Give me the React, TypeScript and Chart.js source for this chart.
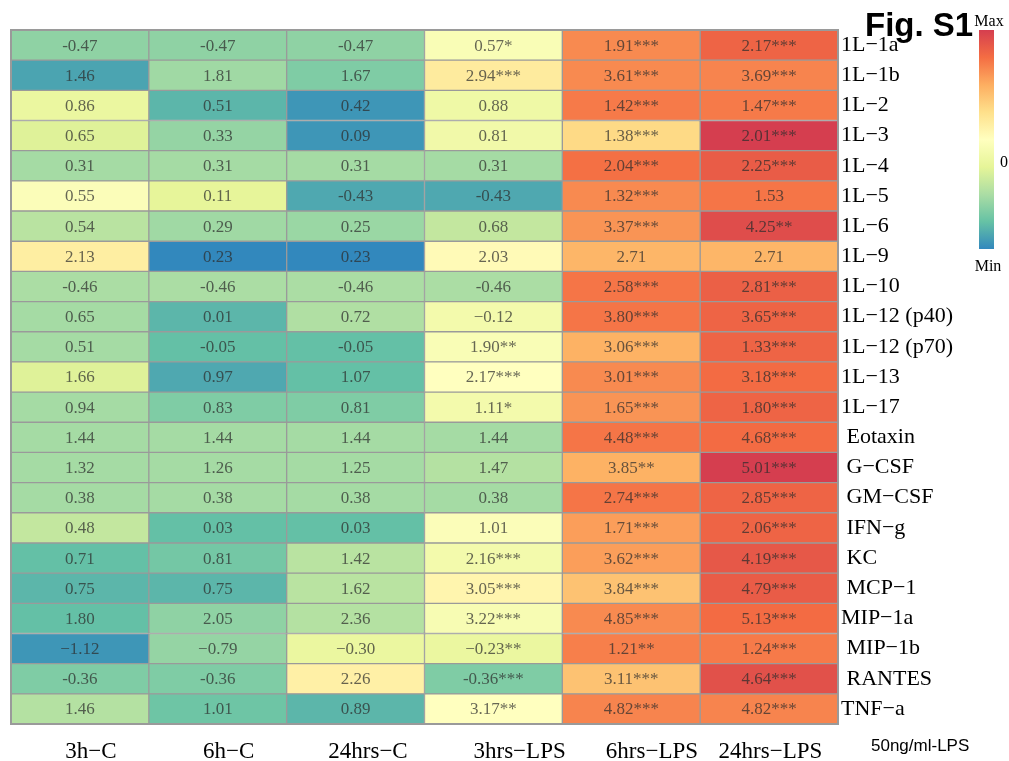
import React, { useEffect, useRef } from "react";
import { Chart, registerables } from "chart.js";

Chart.register(...registerables);

// Row (cytokine) and column (condition) names
const rowLabels = [
  "1L−1a", "1L−1b", "1L−2", "1L−3", "1L−4", "1L−5", "1L−6", "1L−9", "1L−10",
  "1L−12 (p40)", "1L−12 (p70)", "1L−13", "1L−17", " Eotaxin", " G−CSF", " GM−CSF",
  " IFN−g", " KC", " MCP−1", "MIP−1a", " MIP−1b", " RANTES", "TNF−a",
];
const columnLabels = ["3h−C", "6h−C", "24hrs−C", "3hrs−LPS", "6hrs−LPS", "24hrs−LPS"];

// Fold-change values printed in each cell
const values: number[][] = [
  [-0.47, -0.47, -0.47, 0.57, 1.91, 2.17],
  [1.46, 1.81, 1.67, 2.94, 3.61, 3.69],
  [0.86, 0.51, 0.42, 0.88, 1.42, 1.47],
  [0.65, 0.33, 0.09, 0.81, 1.38, 2.01],
  [0.31, 0.31, 0.31, 0.31, 2.04, 2.25],
  [0.55, 0.11, -0.43, -0.43, 1.32, 1.53],
  [0.54, 0.29, 0.25, 0.68, 3.37, 4.25],
  [2.13, 0.23, 0.23, 2.03, 2.71, 2.71],
  [-0.46, -0.46, -0.46, -0.46, 2.58, 2.81],
  [0.65, 0.01, 0.72, -0.12, 3.8, 3.65],
  [0.51, -0.05, -0.05, 1.9, 3.06, 1.33],
  [1.66, 0.97, 1.07, 2.17, 3.01, 3.18],
  [0.94, 0.83, 0.81, 1.11, 1.65, 1.8],
  [1.44, 1.44, 1.44, 1.44, 4.48, 4.68],
  [1.32, 1.26, 1.25, 1.47, 3.85, 5.01],
  [0.38, 0.38, 0.38, 0.38, 2.74, 2.85],
  [0.48, 0.03, 0.03, 1.01, 1.71, 2.06],
  [0.71, 0.81, 1.42, 2.16, 3.62, 4.19],
  [0.75, 0.75, 1.62, 3.05, 3.84, 4.79],
  [1.8, 2.05, 2.36, 3.22, 4.85, 5.13],
  [-1.12, -0.79, -0.3, -0.23, 1.21, 1.24],
  [-0.36, -0.36, 2.26, -0.36, 3.11, 4.64],
  [1.46, 1.01, 0.89, 3.17, 4.82, 4.82],
];

// Significance marks
const stars: string[][] = [
  ["", "", "", "*", "***", "***"],
  ["", "", "", "***", "***", "***"],
  ["", "", "", "", "***", "***"],
  ["", "", "", "", "***", "***"],
  ["", "", "", "", "***", "***"],
  ["", "", "", "", "***", ""],
  ["", "", "", "", "***", "**"],
  ["", "", "", "", "", ""],
  ["", "", "", "", "***", "***"],
  ["", "", "", "", "***", "***"],
  ["", "", "", "**", "***", "***"],
  ["", "", "", "***", "***", "***"],
  ["", "", "", "*", "***", "***"],
  ["", "", "", "", "***", "***"],
  ["", "", "", "", "**", "***"],
  ["", "", "", "", "***", "***"],
  ["", "", "", "", "***", "***"],
  ["", "", "", "***", "***", "***"],
  ["", "", "", "***", "***", "***"],
  ["", "", "", "***", "***", "***"],
  ["", "", "", "**", "**", "***"],
  ["", "", "", "***", "***", "***"],
  ["", "", "", "**", "***", "***"],
];

// Cells whose negative sign is set as a true minus (row, column)
const trueMinusCells: [number, number][] = [
  [9, 3], [20, 0], [20, 1], [20, 2], [20, 3],
];

// Row-scaled colour level of every cell (0 = row minimum, 1 = row maximum)
const levels: number[][] = [
  [0.2, 0.2, 0.2, 0.47, 0.82, 0.9],
  [0.06, 0.23, 0.17, 0.58, 0.82, 0.83],
  [0.4, 0.1, 0.03, 0.42, 0.85, 0.85],
  [0.36, 0.21, 0.03, 0.43, 0.64, 1.0],
  [0.24, 0.24, 0.24, 0.24, 0.87, 0.92],
  [0.48, 0.38, 0.07, 0.07, 0.82, 0.86],
  [0.28, 0.23, 0.22, 0.3, 0.8, 0.96],
  [0.57, 0.0, 0.0, 0.52, 0.73, 0.73],
  [0.25, 0.25, 0.25, 0.25, 0.86, 0.91],
  [0.24, 0.1, 0.26, 0.44, 0.86, 0.9],
  [0.24, 0.12, 0.12, 0.47, 0.74, 0.9],
  [0.36, 0.07, 0.12, 0.5, 0.82, 0.88],
  [0.24, 0.17, 0.17, 0.44, 0.8, 0.9],
  [0.24, 0.24, 0.24, 0.24, 0.86, 0.88],
  [0.24, 0.24, 0.24, 0.27, 0.74, 1.0],
  [0.24, 0.24, 0.24, 0.24, 0.86, 0.9],
  [0.3, 0.12, 0.12, 0.48, 0.78, 0.9],
  [0.12, 0.15, 0.28, 0.44, 0.78, 0.93],
  [0.1, 0.1, 0.28, 0.54, 0.7, 0.92],
  [0.12, 0.2, 0.27, 0.46, 0.82, 0.88],
  [0.03, 0.21, 0.4, 0.4, 0.84, 0.85],
  [0.17, 0.17, 0.56, 0.17, 0.7, 0.95],
  [0.27, 0.14, 0.1, 0.5, 0.83, 0.83],
];

// Spectral ramp from min (blue) to max (red)
const palette = [
  "#3288BD", "#66C2A5", "#ABDDA4", "#E6F598", "#FFFFBF",
  "#FEE08B", "#FDAE61", "#F46D43", "#D53E4F",
];

// Horizontal shift of each column caption, in column widths
const captionShift = [0.08, 0.08, 0.09, 0.19, 0.15, 0.01];

function hexToRgb(h: string): number[] {
  const n = parseInt(h.slice(1), 16);
  return [(n >> 16) & 255, (n >> 8) & 255, n & 255];
}

function rampColor(t: number): string {
  const v = Math.max(0, Math.min(1, t)) * (palette.length - 1);
  const i = Math.min(palette.length - 2, Math.floor(v));
  const f = v - i;
  const a = hexToRgb(palette[i]);
  const b = hexToRgb(palette[i + 1]);
  const c = a.map((x, k) => Math.round(x + (b[k] - x) * f));
  return `rgb(${c[0]},${c[1]},${c[2]})`;
}

function cellText(r: number, c: number): string {
  const v = values[r][c];
  let s = Math.abs(v).toFixed(2);
  if (v < 0) {
    const trueMinus = trueMinusCells.some(([rr, cc]) => rr === r && cc === c);
    s = (trueMinus ? "−" : "-") + s;
  }
  return s + stars[r][c];
}

const serif = "'Liberation Serif', 'Times New Roman', serif";
const sans = "'Liberation Sans', Arial, sans-serif";

const cellLabelPlugin = {
  id: "cellLabels",
  afterDatasetsDraw(chart: any) {
    const { ctx, scales, chartArea } = chart;
    const xs = scales.x;
    const ys = scales.y;
    ctx.save();
    ctx.font = `17px ${serif}`;
    ctx.fillStyle = "rgba(45,45,45,0.72)";
    ctx.textAlign = "center";
    ctx.textBaseline = "middle";
    for (let r = 0; r < rowLabels.length; r++) {
      for (let c = 0; c < columnLabels.length; c++) {
        const x = xs.getPixelForValue(c + 0.5);
        const y = ys.getPixelForValue(r);
        ctx.fillText(cellText(r, c), x, y + 1);
      }
    }
    // outer frame
    ctx.strokeStyle = "#9a9a9a";
    ctx.lineWidth = 2;
    ctx.strokeRect(chartArea.left, chartArea.top, chartArea.right - chartArea.left, chartArea.bottom - chartArea.top);
    ctx.restore();
  },
};

const decorPlugin = {
  id: "decor",
  afterDraw(chart: any) {
    const { ctx } = chart;
    ctx.save();
    // colour key
    const bx = 979, bw = 15, top = 30, bottom = 249;
    const g = ctx.createLinearGradient(0, bottom, 0, top);
    palette.forEach((p, i) => g.addColorStop(i / (palette.length - 1), p));
    ctx.fillStyle = g;
    ctx.fillRect(bx, top, bw, bottom - top);
    ctx.fillStyle = "#000";
    ctx.textBaseline = "alphabetic";
    ctx.textAlign = "center";
    ctx.font = `16px ${serif}`;
    ctx.fillText("Max", 989, 26);
    ctx.fillText("Min", 988, 271);
    ctx.fillText("0", 1004, 167);
    // figure tag
    ctx.textAlign = "left";
    ctx.font = `bold 33px ${sans}`;
    ctx.fillText("Fig. S1", 865, 36);
    ctx.font = `17px ${sans}`;
    ctx.fillText("50ng/ml-LPS", 871, 751);
    ctx.restore();
  },
};

export default function App() {
  const canvasRef = useRef<HTMLCanvasElement | null>(null);

  useEffect(() => {
    const canvas = canvasRef.current;
    if (!canvas) return;

    const datasets = columnLabels.map((name, c) => ({
      label: name,
      data: rowLabels.map(() => [c, c + 1]),
      backgroundColor: rowLabels.map((_, r) => rampColor(levels[r][c])),
      borderColor: "#9a9a9a",
      borderWidth: 1,
      borderSkipped: false,
      grouped: false,
      barPercentage: 1,
      categoryPercentage: 1,
    }));

    const chart = new Chart(canvas, {
      type: "bar",
      data: { labels: rowLabels, datasets: datasets as any },
      options: {
        indexAxis: "y",
        animation: false,
        responsive: false,
        devicePixelRatio: 1,
        layout: { padding: { left: 11, top: 30, right: 0, bottom: 0 } },
        plugins: { legend: { display: false }, tooltip: { enabled: false } },
        scales: {
          x: {
            type: "linear",
            position: "bottom",
            min: 0,
            max: columnLabels.length,
            grid: { display: false, drawTicks: false },
            border: { display: false },
            afterBuildTicks: (scale: any) => {
              scale.ticks = columnLabels.map((_, i) => ({ value: i + 0.5 + captionShift[i] }));
            },
            afterFit: (scale: any) => {
              scale.height = 37;
            },
            ticks: {
              autoSkip: false,
              maxRotation: 0,
              padding: 14,
              color: "#000",
              font: { family: serif, size: 23 },
              callback: (v: any) => columnLabels[Math.floor(Number(v))],
            },
          },
          y: {
            type: "category",
            position: "right",
            grid: { display: false, drawTicks: false },
            border: { display: false },
            afterFit: (scale: any) => {
              scale.width = 171;
            },
            ticks: {
              padding: 3,
              color: "#000",
              font: { family: serif, size: 22 },
            },
          },
        },
      },
      plugins: [cellLabelPlugin, decorPlugin],
    });

    return () => chart.destroy();
  }, []);

  return (
    <div style={{ position: "absolute", left: 0, top: 0, width: 1009, height: 761, background: "#fff" }}>
      <canvas ref={canvasRef} width={1009} height={761} />
    </div>
  );
}
